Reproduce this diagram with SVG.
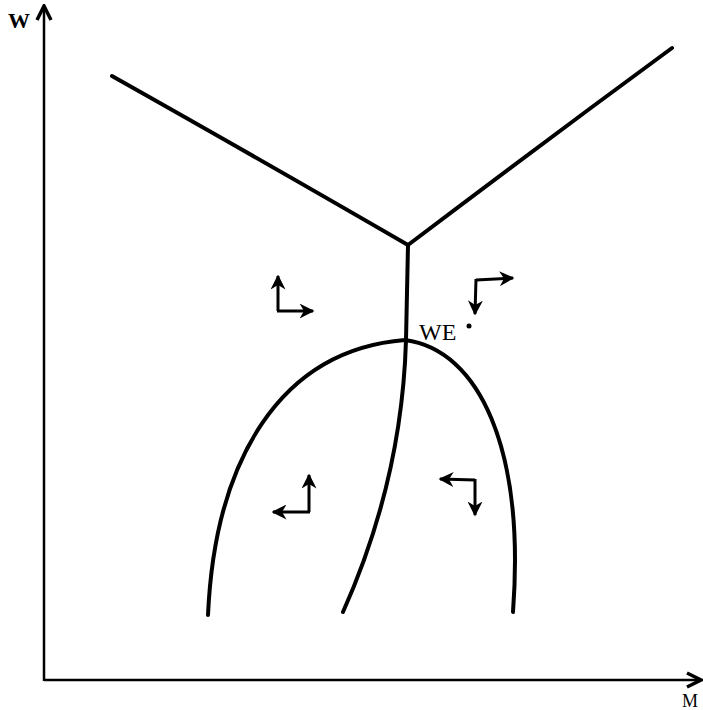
<svg xmlns="http://www.w3.org/2000/svg" width="703" height="710" viewBox="0 0 703 710">
<style>
.ax{stroke:#000;stroke-width:2.5;fill:none}
.cv{stroke:#000;stroke-width:4;fill:none;stroke-linecap:round}
.sa{stroke:#000;stroke-width:3;fill:none}
.lbl{font-family:"Liberation Serif",serif;fill:#000}
</style>
<defs>
<marker id="ah" viewBox="0 0 10 10" refX="9" refY="5" markerWidth="5" markerHeight="5" orient="auto" markerUnits="strokeWidth">
<path d="M0,0 L10,5 L0,10 L3,5 Z" fill="#000"/>
</marker>
<marker id="axh" viewBox="0 0 10 10" refX="9" refY="5" markerWidth="7" markerHeight="7" orient="auto" markerUnits="strokeWidth">
<path d="M1,1 L9,5 L1,9" fill="none" stroke="#000" stroke-width="2"/>
</marker>
</defs>
<g id="axes">
<line class="ax" x1="44" y1="681" x2="44" y2="6" marker-end="url(#axh)"/>
<line class="ax" x1="44" y1="680" x2="701" y2="680" marker-end="url(#axh)"/>
<text class="lbl" x="8" y="28" style="font-size:22px;font-weight:bold">W</text>
<text class="lbl" x="682" y="707" style="font-size:18px">M</text>
</g>
<g id="connectors">
<path class="cv" d="M112,76 Q270,165 408,245"/>
<path class="cv" d="M672,48 Q540,145 408,245"/>
<path class="cv" d="M408,245 L406,340 Q402,480 343,612"/>
<path class="cv" d="M208,615 C215,460 280,350 405,340 C480,350 525,450 513,612"/>
</g>
<g id="arrow1">
<path class="sa" d="M278,311 L278,276" marker-end="url(#ah)"/>
<path class="sa" d="M277,311 L313,311" marker-end="url(#ah)"/>
</g>
<g id="arrow2">
<path class="sa" d="M476,280 L513,278" marker-end="url(#ah)"/>
<path class="sa" d="M476,279 L475,314" marker-end="url(#ah)"/>
</g>
<g id="arrow3">
<path class="sa" d="M309,512 L309,475" marker-end="url(#ah)"/>
<path class="sa" d="M310,512 L273,512" marker-end="url(#ah)"/>
</g>
<g id="arrow4">
<path class="sa" d="M475,480 L440,479" marker-end="url(#ah)"/>
<path class="sa" d="M475,479 L475,515" marker-end="url(#ah)"/>
</g>
<g id="label-we">
<text class="lbl" x="419" y="340" style="font-size:24px">WE</text>
<circle cx="469" cy="326" r="2.5" fill="#000"/>
</g>
</svg>
